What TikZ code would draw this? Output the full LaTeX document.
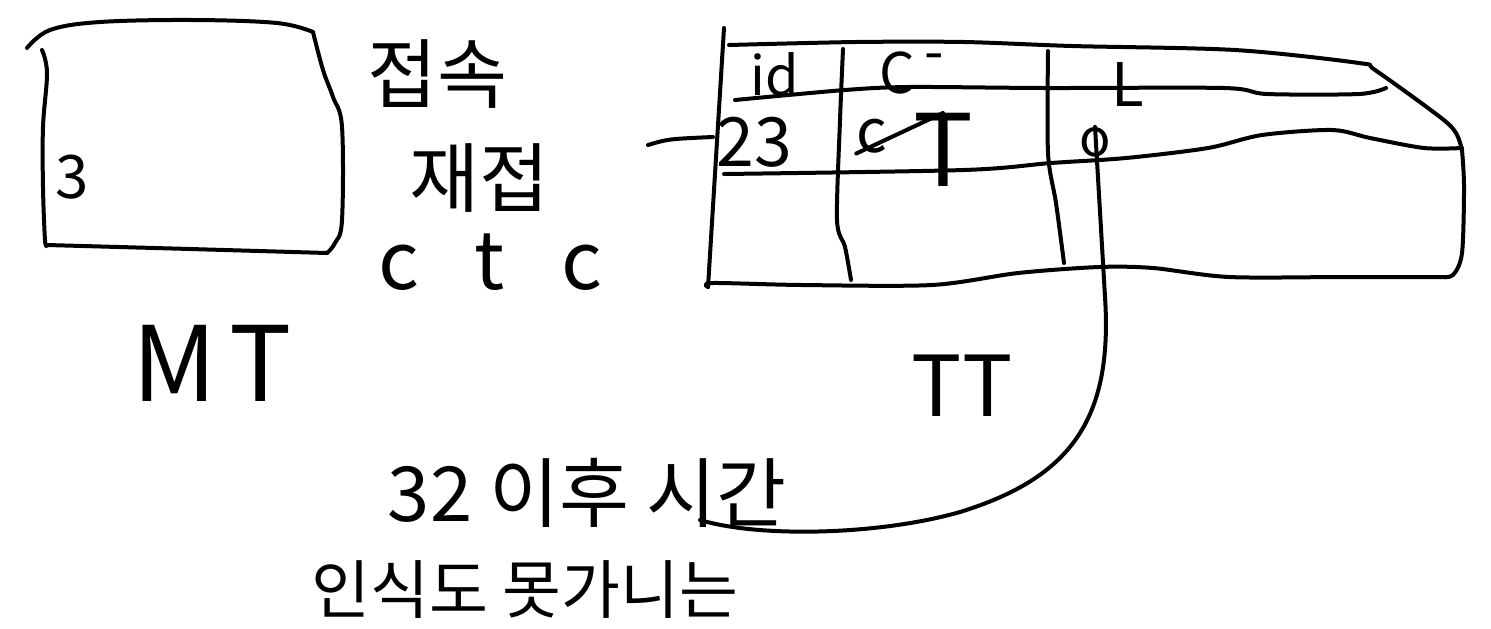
\documentclass[tikz,border=0pt]{standalone}
\usepackage{fontspec}
\setmainfont{Noto Sans CJK KR}
\newcommand\skfs[1]{\fontsize{#1}{#1}\selectfont}
\begin{document}
\begin{tikzpicture}[x=0.5pt,y=-0.5pt,
  sk/.style={line width=2pt,line cap=round,line join=round},
  lbl/.style={inner sep=0pt,anchor=center}]
\fill[white] (0,0) rectangle (1491,628);
\useasboundingbox (0,0) rectangle (1491,628);

% ---------- MT box ----------
\draw[sk] plot[smooth,tension=0.6] coordinates {(27,48) (50,30) (100,22) (193,20) (277,23) (313,32)};
\draw[sk] plot[smooth,tension=0.6] coordinates {(313,32) (323,70) (333,97) (342,127) (342,220) (335,243) (327,253)};
\draw[sk] plot[smooth,tension=0.6] coordinates {(327,253) (190,249) (47,245)};
\draw[sk] plot[smooth,tension=0.6] coordinates {(42,50) (47,73) (43,127) (43,187) (45,240) (47,245)};
\node[lbl,font=\skfs{30}] (three) at (72,177) {3};
\node[lbl,font=\skfs{52}] (mt) at (212,363) {M\hspace{0.12em}T};

% ---------- middle notes ----------
\node[lbl,font=\skfs{38}] (n1) at (437,74) {접속};
\node[lbl,font=\skfs{38}] (n2) at (479,178) {재접};
\node[lbl,font=\skfs{40}] (n3) at (490,262) {c\hspace{0.7em}t\hspace{0.7em}c};

% ---------- TT table ----------
\draw[sk] plot[smooth,tension=0.5] coordinates {(729,45) (856,42) (964,42) (1072,46) (1235,50) (1359,63) (1375,70) (1440,117) (1456,133) (1462,150)};
\draw[sk] plot[smooth,tension=0.5] coordinates {(1462,150) (1464,187) (1462,253) (1453,275) (1440,277)};
\draw[sk] plot[smooth,tension=0.5] coordinates {(708,287) (713,283) (802,285) (932,285) (1018,273) (1099,267) (1153,268) (1229,277) (1343,277) (1440,277)};
\draw[sk] (724,28) -- (708,287);
\draw[sk] plot[smooth,tension=0.5] coordinates {(735,100) (845,90) (910,87) (1045,88) (1224,88) (1267,94) (1359,94) (1386,88)};
\draw[sk] plot[smooth,tension=0.5] coordinates {(724,174) (964,170) (1051,163) (1126,158) (1208,148) (1262,135) (1332,130) (1370,138) (1424,148) (1462,148)};
\draw[sk] plot[smooth,tension=0.5] coordinates {(843,49) (840,120) (837,220) (845,247) (851,280)};
\draw[sk] plot[smooth,tension=0.5] coordinates {(1048,51) (1048,153) (1056,203) (1064,263)};
\draw[sk] (648,145) .. controls (668,139) .. (713,137);

\node[lbl,font=\skfs{27}] (hid) at (775,74) {id};
\node[lbl,font=\skfs{28}] (hc) at (912,73) {C\raisebox{0.4em}{\,-}};
\node[lbl,font=\skfs{30}] (hl) at (1128,85) {L};
\node[lbl,font=\skfs{34}] (v23) at (754,142) {23};
\node[lbl,font=\skfs{30}] (vc) at (872,136) {c};
\node[lbl,font=\skfs{50}] (vt) at (943,150) {T};
\node[lbl,font=\skfs{26}] (vo) at (1095,142) {o};
\draw[sk] (vc.south west) -- (vt.north);

\node[lbl,font=\skfs{42}] (tt) at (962,386) {TT};

% ---------- bottom note ----------
\node[lbl,font=\skfs{38}] (b1) at (587,493) {32 이후 시간};
\node[lbl,font=\skfs{32}] (b2) at (525,590) {인식도 못가니는};

\coordinate (cend) at (700,520);
\draw[sk] (vo.north) -- (1105,297) .. controls (1113,420) and (1070,478) .. (960,512)
  .. controls (880,535) and (760,538) .. (cend);
\end{tikzpicture}
\end{document}
